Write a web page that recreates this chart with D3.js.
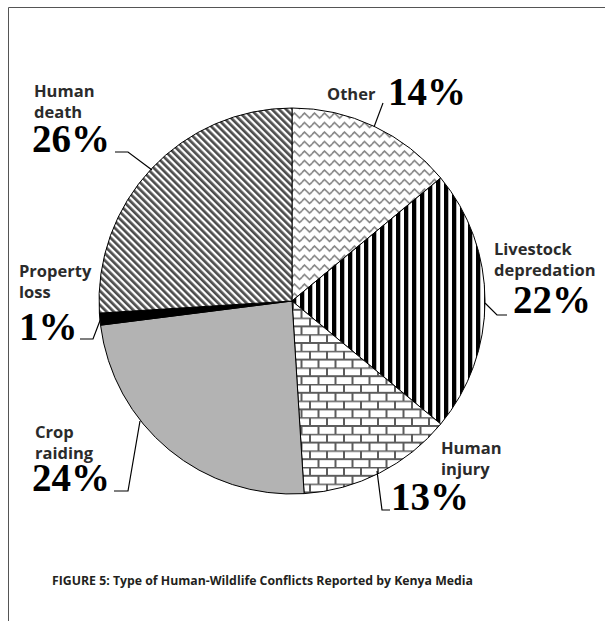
<!DOCTYPE html>
<html>
<head>
<meta charset="utf-8">
<script src="https://cdn.jsdelivr.net/npm/d3@7"></script>
<style>
  body { margin: 0; background: #fff; }
  svg { display: block; }
</style>
</head>
<body>
<svg width="605" height="621"></svg>
<script>
// slice data, clockwise from 12 o'clock
const categories = ["Other", "Livestock depredation", "Human injury", "Crop raiding", "Property loss", "Human death"];
const shares = [14, 22, 13, 24, 1, 26];
const nameLines = [["Other"], ["Livestock", "depredation"], ["Human", "injury"], ["Crop", "raiding"], ["Property", "loss"], ["Human", "death"]];
const caption = "FIGURE 5: Type of Human-Wildlife Conflicts Reported by Kenya Media";

const svg = d3.select("svg");
const cx = 292, cy = 301, r = 193;

// frame
svg.append("path")
  .attr("d", "M8.5,621 L8.5,7.5 L605,7.5")
  .attr("fill", "none")
  .attr("stroke", "#555")
  .attr("stroke-width", 1);

// fill patterns
const defs = svg.append("defs");

const wave = defs.append("pattern").attr("id", "p-wave")
  .attr("patternUnits", "userSpaceOnUse").attr("width", 10).attr("height", 9.5);
wave.append("rect").attr("width", 10).attr("height", 9.5).attr("fill", "#fff");
wave.append("path").attr("d", "M-1,5.5 L2.5,2 L5,4.5 L7.5,7 L11,4")
  .attr("fill", "none").attr("stroke", "#808080").attr("stroke-width", 1.6);

const vert = defs.append("pattern").attr("id", "p-vert")
  .attr("patternUnits", "userSpaceOnUse").attr("width", 8).attr("height", 8);
vert.append("rect").attr("width", 8).attr("height", 8).attr("fill", "#fff");
vert.append("rect").attr("width", 4.3).attr("height", 8).attr("fill", "#000");

const brick = defs.append("pattern").attr("id", "p-brick")
  .attr("patternUnits", "userSpaceOnUse").attr("width", 17).attr("height", 16.6);
brick.append("rect").attr("width", 17).attr("height", 16.6).attr("fill", "#fff");
brick.append("path")
  .attr("d", "M0,0.5 H17 M0,8.8 H17 M1,0.5 V8.8 M9.5,8.8 V16.6")
  .attr("stroke", "#5c5c5c").attr("stroke-width", 2).attr("fill", "none");

const diag = defs.append("pattern").attr("id", "p-diag")
  .attr("patternUnits", "userSpaceOnUse").attr("width", 5).attr("height", 5)
  .attr("patternTransform", "rotate(-45)");
diag.append("rect").attr("width", 5).attr("height", 5).attr("fill", "#fff");
diag.append("rect").attr("width", 2.7).attr("height", 5).attr("fill", "#4d4d4d");

const fills = ["url(#p-wave)", "url(#p-vert)", "url(#p-brick)", "#b3b3b3", "#000", "url(#p-diag)"];

const pie = d3.pie().sort(null).value(d => d);
const arc = d3.arc().innerRadius(0).outerRadius(r);

const g = svg.append("g").attr("transform", `translate(${cx},${cy})`);
g.selectAll("path")
  .data(pie(shares))
  .join("path")
  .attr("d", arc)
  .attr("fill", (d, i) => fills[i])
  .attr("stroke", "#000")
  .attr("stroke-width", 1)
  .attr("stroke-linejoin", "round");

// label placement (absolute page coordinates)
const labelPos = [
  { x: 327, y: 100, px: 388, py: 105 },
  { x: 494, y: 255, px: 513, py: 313 },
  { x: 441, y: 454, px: 391, py: 510 },
  { x: 35, y: 438, px: 32, py: 491 },
  { x: 19, y: 277, px: 19, py: 340 },
  { x: 34, y: 97, px: 32, py: 152 }
];
const leaders = [
  [[383, 103], [374, 127]],
  [[507, 315], [497, 315], [485, 303]],
  [[390, 510], [382, 510], [377, 471]],
  [[114, 491], [128, 491], [140, 421]],
  [[80, 339], [93, 339], [101, 318]],
  [[115, 152], [128, 152], [152, 170]]
];

const line = d3.line();
svg.append("g").selectAll("path")
  .data(leaders)
  .join("path")
  .attr("d", line)
  .attr("fill", "none")
  .attr("stroke", "#000")
  .attr("stroke-width", 1.2);

const labels = svg.append("g").selectAll("g")
  .data(categories)
  .join("g");

labels.each(function (d, i) {
  const sel = d3.select(this);
  const p = labelPos[i];
  nameLines[i].forEach((t, k) => {
    sel.append("text")
      .attr("x", p.x)
      .attr("y", p.y + k * 21)
      .attr("font-family", "'Open Sans', 'Noto Sans', sans-serif")
      .attr("font-weight", 700)
      .attr("font-size", 16.5)
      .attr("fill", "#2b2b2b")
      .text(t);
  });
  sel.append("text")
    .attr("x", p.px)
    .attr("y", p.py)
    .attr("font-family", "'Liberation Serif', 'DejaVu Serif', serif")
    .attr("font-weight", 700)
    .attr("font-size", 39)
    .attr("fill", "#000")
    .text(shares[i] + "%");
});

svg.append("text")
  .attr("x", 52)
  .attr("y", 585)
  .attr("textLength", 421)
  .attr("lengthAdjust", "spacingAndGlyphs")
  .attr("font-family", "'Open Sans', 'Noto Sans', sans-serif")
  .attr("font-weight", 700)
  .attr("font-size", 13)
  .attr("fill", "#231f20")
  .text(caption);
</script>
</body>
</html>
